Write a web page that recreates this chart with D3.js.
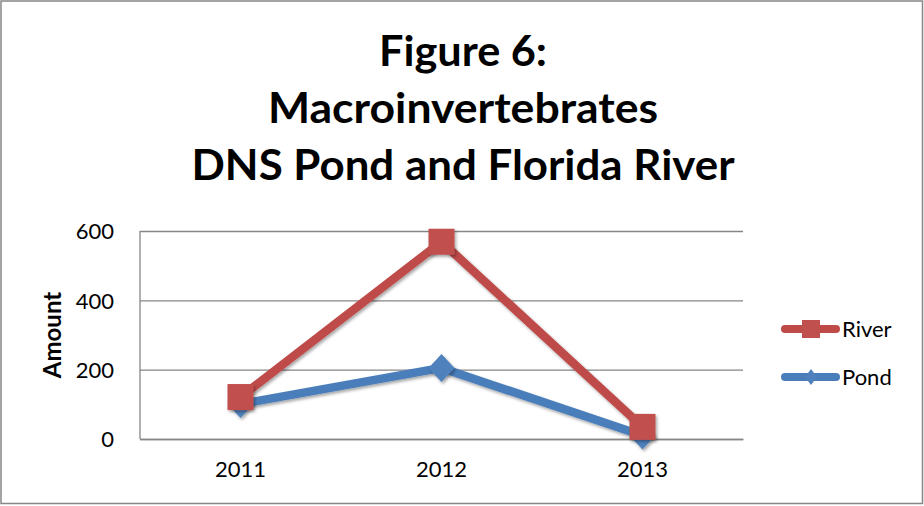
<!DOCTYPE html>
<html><head><meta charset="utf-8">
<script src="https://cdn.jsdelivr.net/npm/d3@7"></script>
<style>html,body{margin:0;padding:0;background:#fff;}svg{display:block;}</style>
</head><body>
<svg id="chart" width="924" height="506"></svg>
<script>
const categories = ["2011", "2012", "2013"];
const riverValues = [121, 569, 35];
const pondValues = [101, 205, 10];
const yTicks = [0, 200, 400, 600];
const titleLines = ["Figure 6:", "Macroinvertebrates", "DNS Pond and Florida River"];
const seriesNames = ["River", "Pond"];

const font = "Lato, 'Open Sans', sans-serif";
const svg = d3.select("#chart");
const W = 924, H = 506;
const plot = {left: 140, right: 743, top: 231, bottom: 439};

const defs = svg.append("defs");
const f = defs.append("filter").attr("id", "shadow").attr("x", "-50%").attr("y", "-50%").attr("width", "200%").attr("height", "200%");
f.append("feDropShadow").attr("dx", 1.5).attr("dy", 2).attr("stdDeviation", 1.5).attr("flood-color", "#000").attr("flood-opacity", 0.35);

svg.append("rect").attr("x", 0).attr("y", 0).attr("width", W).attr("height", H).attr("fill", "#fff");
svg.append("rect").attr("x", 1).attr("y", 1).attr("width", W - 2.5).attr("height", H - 3.5)
  .attr("fill", "none").attr("stroke", "#868686").attr("stroke-width", 1.5);

// Title
const title = svg.append("g").attr("font-family", font).attr("font-weight", "bold").attr("font-size", 42).attr("fill", "#000");
const titleBaselines = [66, 123, 180];
const titleWidths = [168, 390, 543];
titleLines.forEach((t, i) => {
  title.append("text").attr("x", 463).attr("y", titleBaselines[i]).attr("text-anchor", "middle")
    .attr("textLength", titleWidths[i]).attr("lengthAdjust", "spacingAndGlyphs").text(t);
});

const x = d3.scaleBand().domain(categories).range([plot.left, plot.right]);
const y = d3.scaleLinear().domain([0, 600]).range([plot.bottom, plot.top]);

// gridlines
const yAxis = d3.axisLeft(y).tickValues(yTicks).tickSize(-(plot.right - plot.left)).tickPadding(26);
const gy = svg.append("g").attr("transform", `translate(${plot.left},0)`).call(yAxis);
gy.select(".domain").remove();
gy.selectAll(".tick line").attr("stroke", "#868686").attr("stroke-width", 1.3);
gy.selectAll(".tick text").attr("font-family", font).attr("font-size", 22).attr("fill", "#000").attr("dy", "0.36em");

// left axis line
svg.append("line").attr("x1", plot.left).attr("x2", plot.left).attr("y1", plot.top).attr("y2", plot.bottom)
  .attr("stroke", "#868686").attr("stroke-width", 1.3);

const xAxis = d3.axisBottom(x).tickSize(0).tickPadding(22);
const gx = svg.append("g").attr("transform", `translate(0,${plot.bottom})`).call(xAxis);
gx.select(".domain").attr("stroke", "#868686").attr("stroke-width", 1.3);
gx.selectAll(".tick text").attr("font-family", font).attr("font-size", 22).attr("fill", "#000");

// y axis title
svg.append("text").attr("transform", "translate(61,335) rotate(-90)").attr("text-anchor", "middle")
  .attr("font-family", font).attr("font-weight", "bold").attr("font-size", 24).text("Amount");

const cx = d => x(d) + x.bandwidth() / 2;
const line = d3.line().x(d => cx(d.c)).y(d => y(d.v));
const pondData = categories.map((c, i) => ({c, v: pondValues[i]}));
const riverData = categories.map((c, i) => ({c, v: riverValues[i]}));

const blue = "#4A7EBB", red = "#BE4B48";
const blueFill = "#4F81BD", redFill = "#C0504D";

function drawSeries(data, color, fill, marker) {
  const g = svg.append("g");
  g.append("path").datum(data).attr("d", line).attr("fill", "none").attr("stroke", color)
    .attr("stroke-width", 8.5).attr("stroke-linejoin", "round").attr("stroke-linecap", "round")
    .attr("filter", "url(#shadow)");
  if (marker === "square") {
    g.selectAll("rect").data(data).join("rect")
      .attr("x", d => cx(d.c) - 13).attr("y", d => y(d.v) - 13).attr("width", 26).attr("height", 26)
      .attr("fill", fill).attr("filter", "url(#shadow)");
  } else {
    g.selectAll("path.m").data(data).join("path").attr("class", "m")
      .attr("d", d => `M${cx(d.c)},${y(d.v) - 14}L${cx(d.c) + 13},${y(d.v)}L${cx(d.c)},${y(d.v) + 14}L${cx(d.c) - 13},${y(d.v)}Z`)
      .attr("fill", fill).attr("filter", "url(#shadow)");
  }
}
drawSeries(pondData, blue, blueFill, "diamond");
drawSeries(riverData, red, redFill, "square");

// Legend
const legend = svg.append("g");
const legY = [329, 377];
const legColors = [[red, redFill, "square"], [blue, blueFill, "diamond"]];
seriesNames.forEach((name, i) => {
  const yy = legY[i];
  const [c, fl, m] = legColors[i];
  legend.append("line").attr("x1", 785).attr("x2", 836).attr("y1", yy).attr("y2", yy)
    .attr("stroke", c).attr("stroke-width", 8).attr("stroke-linecap", "round");
  if (m === "square") {
    legend.append("rect").attr("x", 802).attr("y", yy - 9).attr("width", 18).attr("height", 18).attr("fill", fl);
  } else {
    legend.append("path").attr("d", `M811,${yy - 8}L817,${yy}L811,${yy + 8}L805,${yy}Z`).attr("fill", fl);
  }
  legend.append("text").attr("x", 842).attr("y", yy).attr("dy", "0.35em")
    .attr("font-family", font).attr("font-size", 22).attr("fill", "#000").text(name);
});
</script>
</body></html>
